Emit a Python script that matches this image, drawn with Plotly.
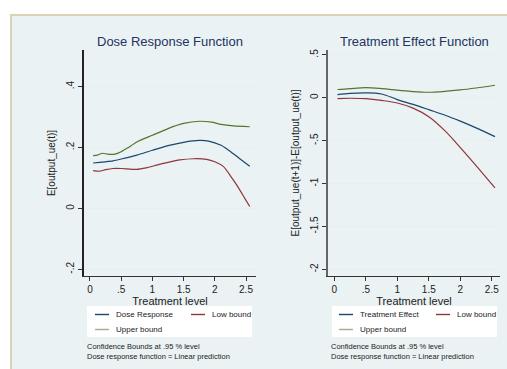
import plotly.graph_objects as go

# ---------------- data ----------------
dose_x = [0.05, 0.15, 0.25, 0.37, 0.5, 0.75, 1.0, 1.25, 1.5, 1.75, 1.9, 2.1, 2.25, 2.4, 2.56]
dose_resp = [0.149, 0.151, 0.153, 0.156, 0.162, 0.175, 0.191, 0.206, 0.217, 0.223, 0.221, 0.207, 0.187, 0.163, 0.138]

up_x = [0.05, 0.12, 0.2, 0.28, 0.4, 0.5, 0.6, 0.75, 1.0, 1.25, 1.5, 1.75, 1.95, 2.1, 2.3, 2.56]
dose_up = [0.173, 0.175, 0.181, 0.178, 0.178, 0.186, 0.198, 0.218, 0.240, 0.262, 0.279, 0.286, 0.283, 0.276, 0.271, 0.268]

low_x = [0.05, 0.15, 0.25, 0.37, 0.5, 0.75, 0.9, 1.07, 1.25, 1.44, 1.66, 1.87, 2.0, 2.14, 2.25, 2.35, 2.48, 2.56]
dose_low = [0.124, 0.122, 0.127, 0.131, 0.131, 0.128, 0.133, 0.142, 0.151, 0.159, 0.163, 0.161, 0.153, 0.137, 0.107, 0.077, 0.033, 0.006]

te_x = [0.05, 0.25, 0.5, 0.75, 1.0, 1.25, 1.5, 1.75, 2.0, 2.25, 2.55]
te_eff = [0.038, 0.052, 0.058, 0.045, -0.020, -0.077, -0.138, -0.200, -0.272, -0.350, -0.452]
te_up = [0.097, 0.108, 0.118, 0.108, 0.090, 0.073, 0.065, 0.075, 0.092, 0.115, 0.147]
te_low = [-0.008, -0.005, -0.010, -0.030, -0.060, -0.120, -0.220, -0.380, -0.580, -0.790, -1.050]

x_tickvals = [0, 0.5, 1, 1.5, 2, 2.5]
x_ticktext = ["0", ".5", "1", "1.5", "2", "2.5"]
y1_tickvals = [-0.2, 0, 0.2, 0.4]
y1_ticktext = ["-.2", "0", ".2", ".4"]
y2_tickvals = [-2, -1.5, -1, -0.5, 0, 0.5]
y2_ticktext = ["-2", "-1.5", "-1", "-.5", "0", ".5"]

titles = ["Dose Response Function", "Treatment Effect Function"]
ytitles = ["E[output_ue(t)]", "E[output_ue(t+1)]-E[output_ue(t)]"]
legend_left = ["Dose Response", "Low bound", "Upper bound"]
legend_right = ["Treatment Effect", "Low bound", "Upper bound"]
notes = "Confidence Bounds at .95 % level<br>Dose response function = Linear prediction"

# ---------------- style ----------------
W, H = 507, 369
NAVY, MAROON, GREEN = "#1a476f", "#90353b", "#55752f"
BG = "#eaf2f3"
FONT = "Liberation Sans, Arial, sans-serif"

def px(x):
    return x / W

def py(y):
    return 1 - y / H

fig = go.Figure()
lw = 1.2
sm = dict(shape="spline", smoothing=0.6)
fig.add_trace(go.Scatter(x=dose_x, y=dose_resp, mode="lines", line=dict(color=NAVY, width=lw, **sm), xaxis="x", yaxis="y"))
fig.add_trace(go.Scatter(x=low_x, y=dose_low, mode="lines", line=dict(color=MAROON, width=lw, **sm), xaxis="x", yaxis="y"))
fig.add_trace(go.Scatter(x=up_x, y=dose_up, mode="lines", line=dict(color=GREEN, width=lw, **sm), xaxis="x", yaxis="y"))
fig.add_trace(go.Scatter(x=te_x, y=te_eff, mode="lines", line=dict(color=NAVY, width=lw, shape="spline"), xaxis="x2", yaxis="y2"))
fig.add_trace(go.Scatter(x=te_x, y=te_low, mode="lines", line=dict(color=MAROON, width=lw, shape="spline"), xaxis="x2", yaxis="y2"))
fig.add_trace(go.Scatter(x=te_x, y=te_up, mode="lines", line=dict(color=GREEN, width=lw, shape="spline"), xaxis="x2", yaxis="y2"))

tickfont = dict(family=FONT, size=10, color="#222")
common_x = dict(tickvals=x_tickvals, ticktext=x_ticktext, ticks="outside", ticklen=4, tickcolor="#333",
                showline=True, linecolor="#333", linewidth=1, showgrid=False, zeroline=False,
                tickfont=tickfont, title=dict(text="Treatment level", font=dict(family=FONT, size=11, color="#222"), standoff=0))
common_y = dict(ticks="outside", ticklen=4, tickcolor="#333", showline=True, linewidth=1.5,
                showgrid=True, gridcolor="#e6eef0", gridwidth=1, zeroline=False, tickangle=-90,
                tickfont=tickfont)

fig.update_layout(
    width=W, height=H, margin=dict(l=0, r=0, t=0, b=0),
    paper_bgcolor="white", plot_bgcolor="white", showlegend=False,
    font=dict(family=FONT, color="#222"),
    xaxis=dict(domain=[px(84), px(256)], range=[-0.096, 2.66], anchor="y", **common_x),
    yaxis=dict(domain=[py(276), py(50)], range=[-0.222, 0.52], anchor="x",
               tickvals=y1_tickvals, ticktext=y1_ticktext, linecolor="#222",
               title=dict(text=ytitles[0], font=dict(family=FONT, size=10, color="#222"), standoff=8), **common_y),
    xaxis2=dict(domain=[px(328), px(500)], range=[-0.1, 2.63], anchor="y2", **common_x),
    yaxis2=dict(domain=[py(276), py(50)], range=[-2.078, 0.558], anchor="x2",
                tickvals=y2_tickvals, ticktext=y2_ticktext, linecolor="#666",
                title=dict(text=ytitles[1], font=dict(family=FONT, size=10, color="#222"), standoff=8), **common_y),
)

shapes = []
# outer graph region frame
shapes.append(dict(type="rect", xref="paper", yref="paper", x0=px(11), x1=px(530), y0=py(390), y1=py(15),
                   fillcolor=BG, line=dict(color="#d8d3b6", width=2), layer="below"))
annotations = []
for cx, t in [(170, titles[0]), (414, titles[1])]:
    annotations.append(dict(x=px(cx), y=py(41), xref="paper", yref="paper", text=t, showarrow=False,
                            font=dict(family=FONT, size=13, color="#243461"), xanchor="center", yanchor="middle"))

def legend(x0, x1, labels, colors, col2_text_x, text_x):
    shapes.append(dict(type="rect", xref="paper", yref="paper", x0=px(x0), x1=px(x1), y0=py(337), y1=py(306),
                       fillcolor="white", line=dict(width=0), layer="below"))
    items = [(text_x, 314.5, labels[0], colors[0]), (col2_text_x, 314.5, labels[1], colors[1]),
             (text_x, 329.5, labels[2], colors[2])]
    for tx, ty, lab, col in items:
        shapes.append(dict(type="line", xref="paper", yref="paper", x0=px(tx - 19), x1=px(tx - 5),
                           y0=py(ty), y1=py(ty), line=dict(color=col, width=1.4)))
        annotations.append(dict(x=px(tx), y=py(ty), xref="paper", yref="paper", text=lab, showarrow=False,
                                xanchor="left", yanchor="middle", font=dict(family=FONT, size=8, color="#222")))

legend(87, 252, legend_left, [NAVY, MAROON, "#9db08a"], 210, 114)
legend(332, 497, legend_right, [NAVY, MAROON, "#9db08a"], 455, 358)

for nx in [85, 329]:
    annotations.append(dict(x=px(nx), y=py(340), xref="paper", yref="paper", text=notes, showarrow=False,
                            xanchor="left", yanchor="top", align="left",
                            font=dict(family=FONT, size=7.5, color="#222")))

fig.update_layout(shapes=shapes, annotations=annotations)
fig.write_html("out.html", config={"displayModeBar": False},
               post_script="document.body.style.margin='0';document.body.style.overflow='hidden';")
